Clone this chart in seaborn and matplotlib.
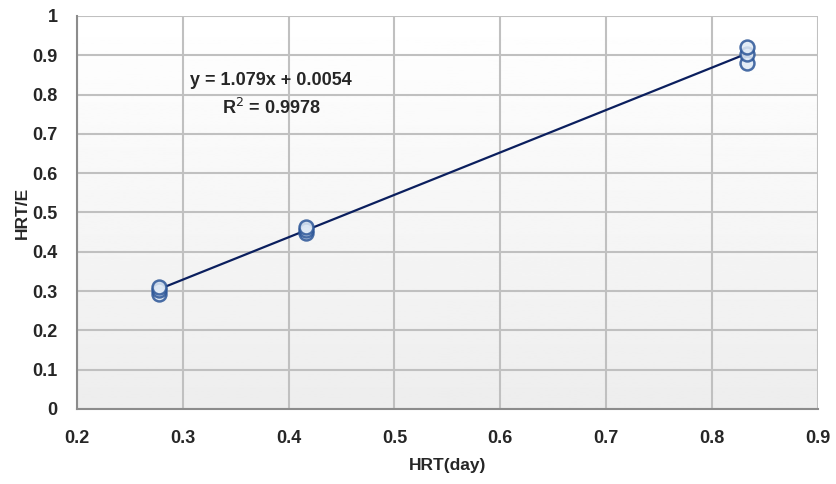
import numpy as np
import pandas as pd
import matplotlib
matplotlib.use("Agg")
import matplotlib.pyplot as plt
import seaborn as sns

# data
hrt_day = [0.2778, 0.2778, 0.2778, 0.4167, 0.4167, 0.4167, 0.8333, 0.8333, 0.8333]
hrt_e = [0.293, 0.303, 0.311, 0.447, 0.455, 0.462, 0.880, 0.902, 0.922]
slope = 1.079
intercept = 0.0054
r2 = 0.9978
x_ticks = [0.2, 0.3, 0.4, 0.5, 0.6, 0.7, 0.8, 0.9]
y_ticks = [0, 0.1, 0.2, 0.3, 0.4, 0.5, 0.6, 0.7, 0.8, 0.9, 1]

sns.set_style("white")
plt.rcParams['font.family'] = ['Liberation Sans', 'DejaVu Sans']

df = pd.DataFrame({"HRT(day)": hrt_day, "HRT/E": hrt_e})
xs = np.array([min(hrt_day), max(hrt_day)])
trend = pd.DataFrame({"x": xs, "y": slope * xs + intercept})

fig = plt.figure(figsize=(8.37, 4.84), dpi=100)
ax = fig.add_axes([0.092, 0.155, 0.885, 0.812])

# gradient background
grad = np.linspace(1.0, 0.93, 256).reshape(-1, 1)
ax.imshow(grad, cmap="gray", vmin=0, vmax=1, aspect="auto",
          extent=[0.2, 0.9, 0, 1], origin="upper", zorder=0)

ax.set_xlim(0.2, 0.9)
ax.set_ylim(0, 1)
ax.set_xticks(x_ticks)
ax.set_yticks(y_ticks)
ax.set_xticklabels([f"{t:g}" for t in x_ticks])
ax.set_yticklabels([f"{t:g}" for t in y_ticks])
ax.grid(True, color="#c0c0c0", linewidth=1.5, zorder=1)
ax.set_axisbelow(True)

sns.lineplot(data=trend, x="x", y="y", ax=ax, color="#0b1f5e", linewidth=1.6, zorder=3)
sns.scatterplot(data=df, x="HRT(day)", y="HRT/E", ax=ax, s=100, marker="o",
                facecolor="#dfe9f5", edgecolor="#2b5597", linewidth=1.8, alpha=0.85, zorder=4)

for s in ["top", "right"]:
    ax.spines[s].set_visible(False)
for s in ["left", "bottom"]:
    ax.spines[s].set_color("#8c8c8c")
    ax.spines[s].set_linewidth(1.5)

ax.tick_params(axis="x", length=0, labelsize=13, pad=15)
ax.tick_params(axis="y", length=0, labelsize=13, pad=14)
for lab in ax.get_xticklabels() + ax.get_yticklabels():
    lab.set_fontweight("bold")
ax.set_xlabel("HRT(day)", fontsize=12.5, fontweight="bold", labelpad=8)
ax.set_ylabel("HRT/E", fontsize=12.5, fontweight="bold", labelpad=2)

ax.text(0.383, 0.837, f"y = {slope}x + {intercept}", ha="center", va="center",
        fontsize=13, fontweight="bold", zorder=5)
ax.text(0.384, 0.766, f"R$^2$ = {r2}", ha="center", va="center",
        fontsize=13, fontweight="bold", zorder=5)

fig.savefig("out.png", dpi=100)
